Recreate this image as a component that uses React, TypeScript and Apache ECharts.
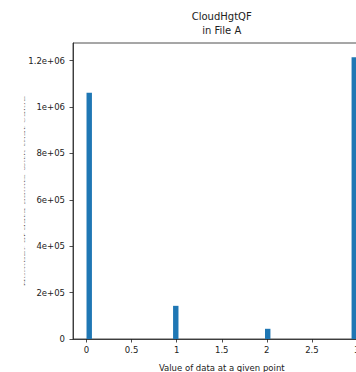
import React, { useEffect, useRef } from "react";
import * as echarts from "echarts";

const titleLines = ["CloudHgtQF", "in File A"];
const xLabel = "Value of data at a given point";
const yLabel = "Number of data points with that value";

// histogram bins with non-zero counts (50 bins over 0..3)
const binLeft = [0, 0.96, 1.98, 2.94];
const binRight = [0.06, 1.02, 2.04, 3.0];
const counts = [1062000, 143000, 44000, 1215000];

const xTicks = [0, 0.5, 1, 1.5, 2, 2.5, 3];
const xTickLabels = ["0", "0.5", "1", "1.5", "2", "2.5", "3"];
const yTicks = [0, 200000, 400000, 600000, 800000, 1000000, 1200000];
const yTickLabels = ["0", "2e+05", "4e+05", "6e+05", "8e+05", "1e+06", "1.2e+06"];

const xMin = -0.15;
const xMax = 3.15;
const yMax = 1276000;

export default function App() {
  const ref = useRef<HTMLDivElement>(null);
  useEffect(() => {
    if (!ref.current) return;
    const chart = echarts.init(ref.current, null, { renderer: "svg" });
    const font = "DejaVu Sans";
    const data = binLeft.map((l, i) => [l, binRight[i], counts[i]]);
    chart.setOption({
      animation: false,
      backgroundColor: "#ffffff",
      grid: {
        left: 73,
        top: 43,
        width: 297.5,
        bottom: 33,
        outerBoundsMode: "none",
        containLabel: false,
        show: true,
        borderColor: "#222",
        borderWidth: 0.8,
        backgroundColor: "transparent",
      },
      xAxis: {
        type: "value",
        min: xMin,
        max: xMax,
        axisLine: { show: true, onZero: false, lineStyle: { color: "#222", width: 0.8 } },
        axisTick: {
          show: true,
          length: 3.5,
          customValues: xTicks,
          lineStyle: { color: "#222", width: 0.8 },
        },
        axisLabel: {
          customValues: xTicks,
          formatter: (v: number) => {
            const i = xTicks.findIndex((t) => Math.abs(t - v) < 1e-9);
            return i >= 0 ? xTickLabels[i] : "";
          },
          fontFamily: font,
          fontSize: 8.5,
          color: "#222",
          margin: 6,
        },
        splitLine: { show: false },
        name: xLabel,
        nameLocation: "middle",
        nameGap: 24,
        nameTextStyle: { fontFamily: font, fontSize: 8.5, color: "#222" },
      },
      yAxis: {
        type: "value",
        min: 0,
        max: yMax,
        axisLine: { show: true, onZero: false, lineStyle: { color: "#222", width: 0.8 } },
        axisTick: {
          show: true,
          length: 3.5,
          customValues: yTicks,
          lineStyle: { color: "#222", width: 0.8 },
        },
        axisLabel: {
          customValues: yTicks,
          formatter: (v: number) => {
            const i = yTicks.findIndex((t) => Math.abs(t - v) < 1);
            return i >= 0 ? yTickLabels[i] : "";
          },
          fontFamily: font,
          fontSize: 8.5,
          color: "#222",
          margin: 8,
        },
        splitLine: { show: false },
      },
      graphic: [
        {
          type: "text",
          x: 221.7,
          y: 9,
          style: {
            text: titleLines.join("\n"),
            textAlign: "center",
            fontFamily: font,
            fontSize: 10,
            lineHeight: 14,
            fill: "#222",
          },
        },
        {
          type: "text",
          x: 25,
          y: 191,
          rotation: Math.PI / 2,
          scaleX: 1,
          scaleY: 0.14,
          style: {
            text: yLabel,
            textAlign: "center",
            textVerticalAlign: "middle",
            fontFamily: font,
            fontSize: 10,
            fill: "#444",
          },
        },
      ],
      series: [
        {
          type: "custom",
          data,
          encode: { x: [0, 1], y: 2 },
          renderItem: (params: any, api: any) => {
            const p0 = api.coord([api.value(0), api.value(2)]);
            const p1 = api.coord([api.value(1), 0]);
            return {
              type: "rect",
              shape: { x: p0[0], y: p0[1], width: p1[0] - p0[0], height: p1[1] - p0[1] },
              style: { fill: "#1f77b4" },
            };
          },
        },
      ],
    });
    return () => chart.dispose();
  }, []);
  return (
    <div
      ref={ref}
      style={{ position: "absolute", left: 0, top: 0, width: 356, height: 372 }}
    />
  );
}
